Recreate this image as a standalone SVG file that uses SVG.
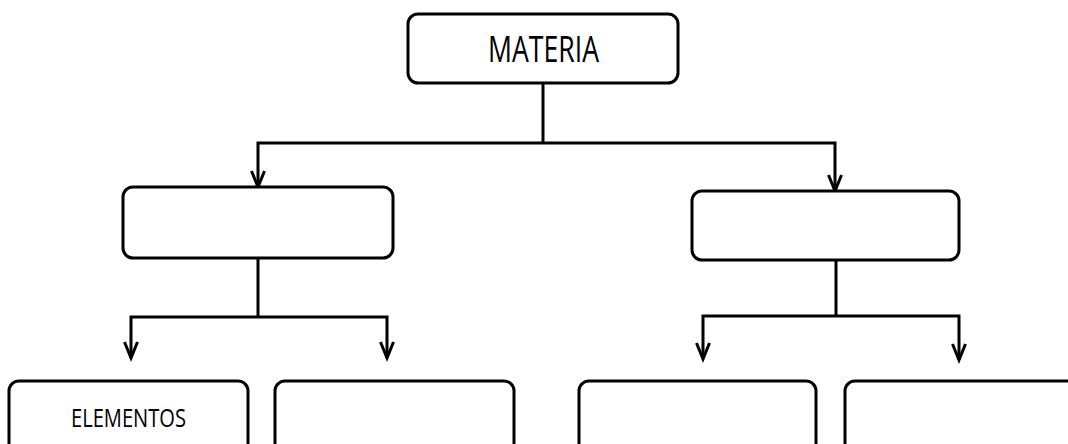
<svg xmlns="http://www.w3.org/2000/svg" width="1068" height="444" viewBox="0 0 1068 444">
  <style>
    .box { fill: #ffffff; stroke: #000000; stroke-width: 3; }
    .wire { fill: none; stroke: #000000; stroke-width: 3; }
    .label { font-family: "Open Sans", "Liberation Sans", sans-serif; fill: #000000; text-anchor: middle; }
  </style>
  <defs>
    <marker id="chevron" markerUnits="userSpaceOnUse" viewBox="-20 -10 24 20" refX="0" refY="0" markerWidth="24" markerHeight="20" orient="auto" overflow="visible">
      <path d="M-16,-6.5 L0,0 L-16,6.5" fill="none" stroke="#000000" stroke-width="3" stroke-linejoin="miter"/>
    </marker>
  </defs>
  <rect width="1068" height="444" fill="#ffffff"/>

  <!-- connectors -->
  <g id="connectors">
    <path class="wire" d="M543,83 V143"/>
    <path class="wire" d="M543,143 H258 V187" marker-end="url(#chevron)"/>
    <path class="wire" d="M543,143 H835 V191" marker-end="url(#chevron)"/>
    <path class="wire" d="M258,258 V317"/>
    <path class="wire" d="M258,317 H131 V358" marker-end="url(#chevron)"/>
    <path class="wire" d="M258,317 H387 V358" marker-end="url(#chevron)"/>
    <path class="wire" d="M836,260 V316"/>
    <path class="wire" d="M836,316 H703 V359" marker-end="url(#chevron)"/>
    <path class="wire" d="M836,316 H959 V360" marker-end="url(#chevron)"/>
  </g>

  <!-- root -->
  <g id="node-materia">
    <rect class="box" x="408" y="14" width="270" height="69" rx="10"/>
    <text class="label" x="543.5" y="62" font-size="36" textLength="111" lengthAdjust="spacingAndGlyphs">MATERIA</text>
  </g>

  <!-- second level -->
  <g id="node-left">
    <rect class="box" x="123" y="187" width="270" height="71" rx="10"/>
  </g>
  <g id="node-right">
    <rect class="box" x="692" y="191" width="267" height="69" rx="10"/>
  </g>

  <!-- third level -->
  <g id="node-elementos">
    <rect class="box" x="9" y="381" width="239" height="80" rx="10"/>
    <text class="label" x="128.5" y="427" font-size="25" textLength="115" lengthAdjust="spacingAndGlyphs">ELEMENTOS</text>
  </g>
  <g id="node-left-b">
    <rect class="box" x="275" y="381" width="239" height="80" rx="10"/>
  </g>
  <g id="node-right-a">
    <rect class="box" x="579" y="381" width="237" height="80" rx="10"/>
  </g>
  <g id="node-right-b">
    <rect class="box" x="845" y="381" width="250" height="80" rx="10"/>
  </g>
</svg>
